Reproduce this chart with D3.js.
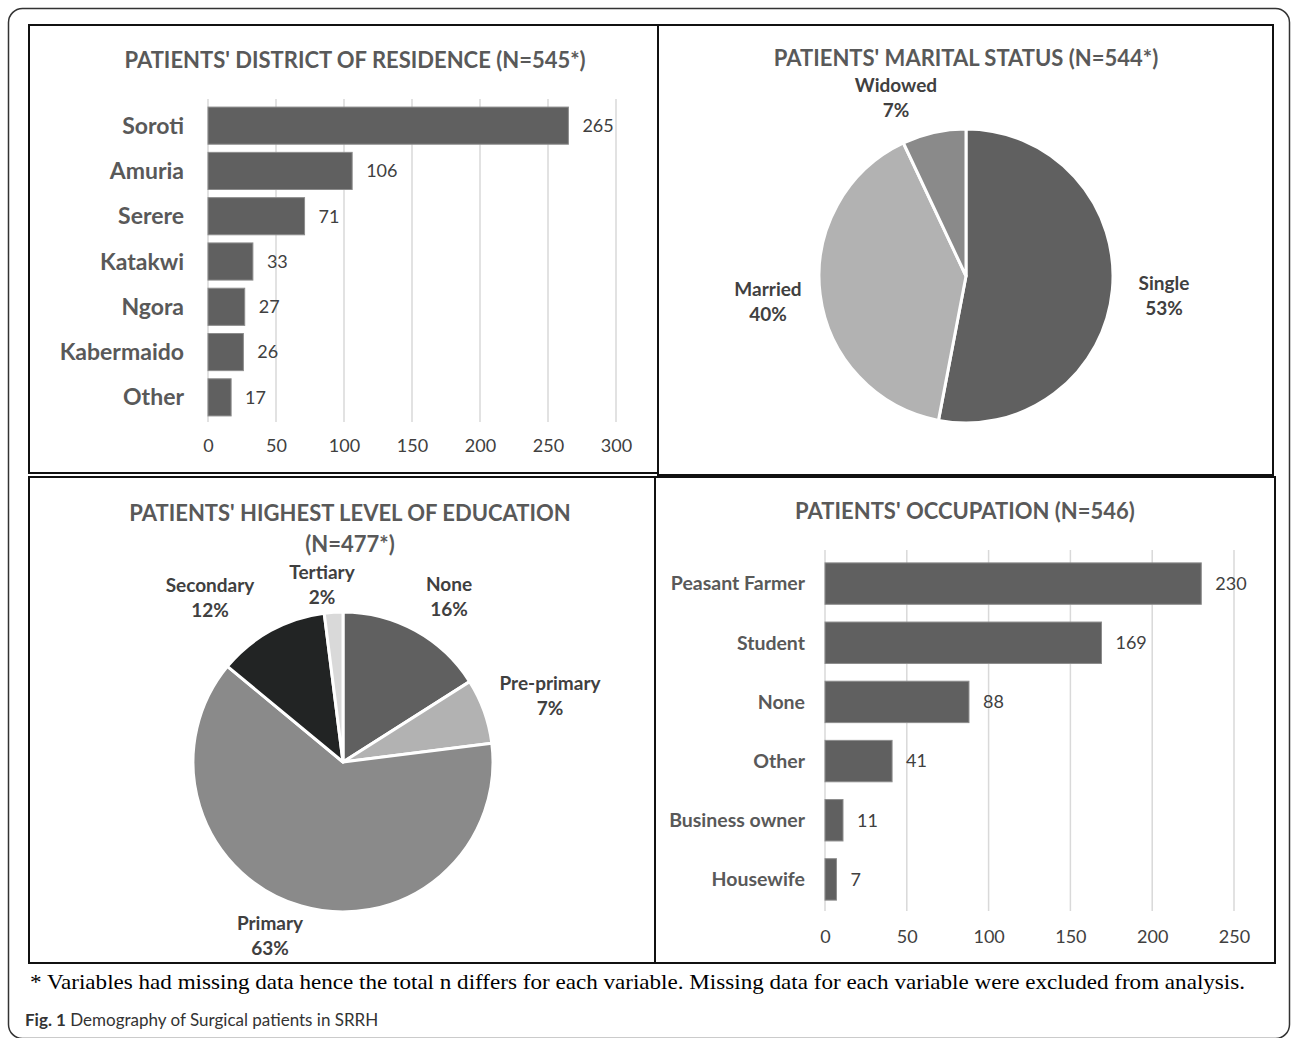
<!DOCTYPE html>
<html>
<head>
<meta charset="utf-8">
<script src="https://cdn.jsdelivr.net/npm/d3@7"></script>
<style>
  body { margin: 0; background: #fff; }
  svg { display: block; }
</style>
</head>
<body>
<svg id="fig" width="1292" height="1038"></svg>
<script>
const districts      = ['Soroti', 'Amuria', 'Serere', 'Katakwi', 'Ngora', 'Kabermaido', 'Other'];
const districtCounts = [265, 106, 71, 33, 27, 26, 17];
const districtTicks  = [0, 50, 100, 150, 200, 250, 300];

const maritalLabels = ['Single', 'Married', 'Widowed'];
const maritalPct    = [53, 40, 7];

const eduLabels = ['None', 'Pre-primary', 'Primary', 'Secondary', 'Tertiary'];
const eduPct    = [16, 7, 63, 12, 2];

const jobs      = ['Peasant Farmer', 'Student', 'None', 'Other', 'Business owner', 'Housewife'];
const jobCounts = [230, 169, 88, 41, 11, 7];
const jobTicks  = [0, 50, 100, 150, 200, 250];

const FONT     = 'Lato, "Open Sans", sans-serif';
const C_TITLE  = '#595959';
const C_TEXT   = '#404040';
const C_BAR    = '#606060';
const C_GRID   = '#d9d9d9';

const svg = d3.select('#fig');

// outer rounded frame
svg.append('rect')
    .attr('x', 8.5).attr('y', 8.5).attr('width', 1281).attr('height', 1030)
    .attr('rx', 14).attr('fill', 'none').attr('stroke', '#333').attr('stroke-width', 1.5);

// panel frames
[[29, 25, 629, 448], [658, 25, 615, 450], [29, 477, 626, 486], [655, 477, 620, 486]].forEach(([x, y, w, h]) => {
    svg.append('rect').attr('x', x).attr('y', y).attr('width', w).attr('height', h)
        .attr('fill', 'none').attr('stroke', '#111').attr('stroke-width', 2);
});

function title(lines, cx, y) {
    lines.forEach((t, i) => {
        svg.append('text').attr('x', cx).attr('y', y + i * 31)
            .attr('text-anchor', 'middle').attr('fill', C_TITLE)
            .style('font', `bold 22px ${FONT}`).text(t);
    });
}

function barChart(opts) {
    const { cats, vals, ticks, x0, x1, y0, y1, pad, catSize, valSize, tickY, labelX } = opts;

    const x = d3.scaleLinear().domain([0, ticks[ticks.length - 1]]).range([x0, x1]);
    const y = d3.scaleBand().domain(cats).range([y0, y1]).paddingInner(pad).paddingOuter(pad / 2);

    const g = svg.append('g');

    g.selectAll('.grid').data(ticks).enter().append('line')
        .attr('x1', d => x(d)).attr('x2', d => x(d))
        .attr('y1', y0 - 4).attr('y2', y1 + 2)
        .attr('stroke', C_GRID).attr('stroke-width', 1.5);

    g.selectAll('.bar').data(vals).enter().append('rect')
        .attr('x', x(0)).attr('y', (d, i) => y(cats[i]))
        .attr('width', d => x(d) - x(0)).attr('height', y.bandwidth())
        .attr('fill', C_BAR).attr('stroke', '#8c8c8c').attr('stroke-width', 1);

    g.selectAll('.val').data(vals).enter().append('text')
        .attr('x', d => x(d) + 14).attr('y', (d, i) => y(cats[i]) + y.bandwidth() / 2)
        .attr('dy', '0.35em').attr('fill', C_TEXT)
        .style('font', `${valSize}px ${FONT}`).text(d => d);

    g.selectAll('.cat').data(cats).enter().append('text')
        .attr('x', labelX).attr('y', d => y(d) + y.bandwidth() / 2)
        .attr('dy', '0.35em').attr('text-anchor', 'end').attr('fill', C_TITLE)
        .style('font', `bold ${catSize}px ${FONT}`).text(d => d);

    const axis = g.append('g').attr('transform', `translate(0,${tickY})`)
        .call(d3.axisBottom(x).tickValues(ticks).tickSize(0).tickPadding(0));
    axis.select('.domain').remove();
    axis.selectAll('.tick text').attr('fill', C_TEXT).attr('dy', '0.35em')
        .style('font', `${valSize}px ${FONT}`);
}

function pieChart(opts) {
    const { labels, vals, colors, cx, cy, r, labelPos } = opts;
    const pie = d3.pie().sort(null).value(d => d)(vals);
    const arc = d3.arc().innerRadius(0).outerRadius(r);

    const g = svg.append('g').attr('transform', `translate(${cx},${cy})`);
    g.selectAll('path').data(pie).enter().append('path')
        .attr('d', arc).attr('fill', (d, i) => colors[i])
        .attr('stroke', '#fff').attr('stroke-width', 3).attr('stroke-linejoin', 'round');

    labels.forEach((lab, i) => {
        const [lx, ly] = labelPos[i];
        [lab, vals[i] + '%'].forEach((t, j) => {
            svg.append('text').attr('x', lx).attr('y', ly + j * 25)
                .attr('text-anchor', 'middle').attr('dy', '0.35em').attr('fill', C_TEXT)
                .style('font', `bold 19px ${FONT}`).text(t);
        });
    });
}

// top-left: district of residence
title(["PATIENTS' DISTRICT OF RESIDENCE (N=545*)"], 355, 68);
barChart({
    cats: districts, vals: districtCounts, ticks: districtTicks,
    x0: 208, x1: 616, y0: 103, y1: 420, pad: 0.18,
    catSize: 23, valSize: 18, tickY: 446, labelX: 184
});

// top-right: marital status
title(["PATIENTS' MARITAL STATUS (N=544*)"], 966, 66);
pieChart({
    labels: maritalLabels, vals: maritalPct,
    colors: ['#606060', '#b2b2b2', '#8a8a8a'],
    cx: 966, cy: 276, r: 147,
    labelPos: [[1164, 283], [768, 289], [896, 85]]
});

// bottom-left: highest level of education
title(["PATIENTS' HIGHEST LEVEL OF EDUCATION", '(N=477*)'], 350, 521);
pieChart({
    labels: eduLabels, vals: eduPct,
    colors: ['#606060', '#b2b2b2', '#8a8a8a', '#222424', '#d9d9d9'],
    cx: 343, cy: 762, r: 150,
    labelPos: [[449, 584], [550, 683], [270, 923], [210, 585], [322, 572]]
});

// bottom-right: occupation
title(["PATIENTS' OCCUPATION (N=546)"], 965, 519);
barChart({
    cats: jobs, vals: jobCounts, ticks: jobTicks,
    x0: 825, x1: 1234, y0: 554, y1: 909, pad: 0.3,
    catSize: 19.5, valSize: 18, tickY: 937, labelX: 805
});

// footnote and caption
svg.append('text').attr('x', 30).attr('y', 989).attr('fill', '#000')
    .attr('textLength', 1215).attr('lengthAdjust', 'spacingAndGlyphs')
    .style('font', '21px "Liberation Serif", "Times New Roman", serif')
    .text('* Variables had missing data hence the total n differs for each variable. Missing data for each variable were excluded from analysis.');

const cap = svg.append('text').attr('x', 25).attr('y', 1026).attr('fill', '#333')
    .style('font', `17px ${FONT}`);
cap.append('tspan').style('font-weight', 'bold').text('Fig. 1');
cap.append('tspan').text(' Demography of Surgical patients in SRRH');
</script>
</body>
</html>
